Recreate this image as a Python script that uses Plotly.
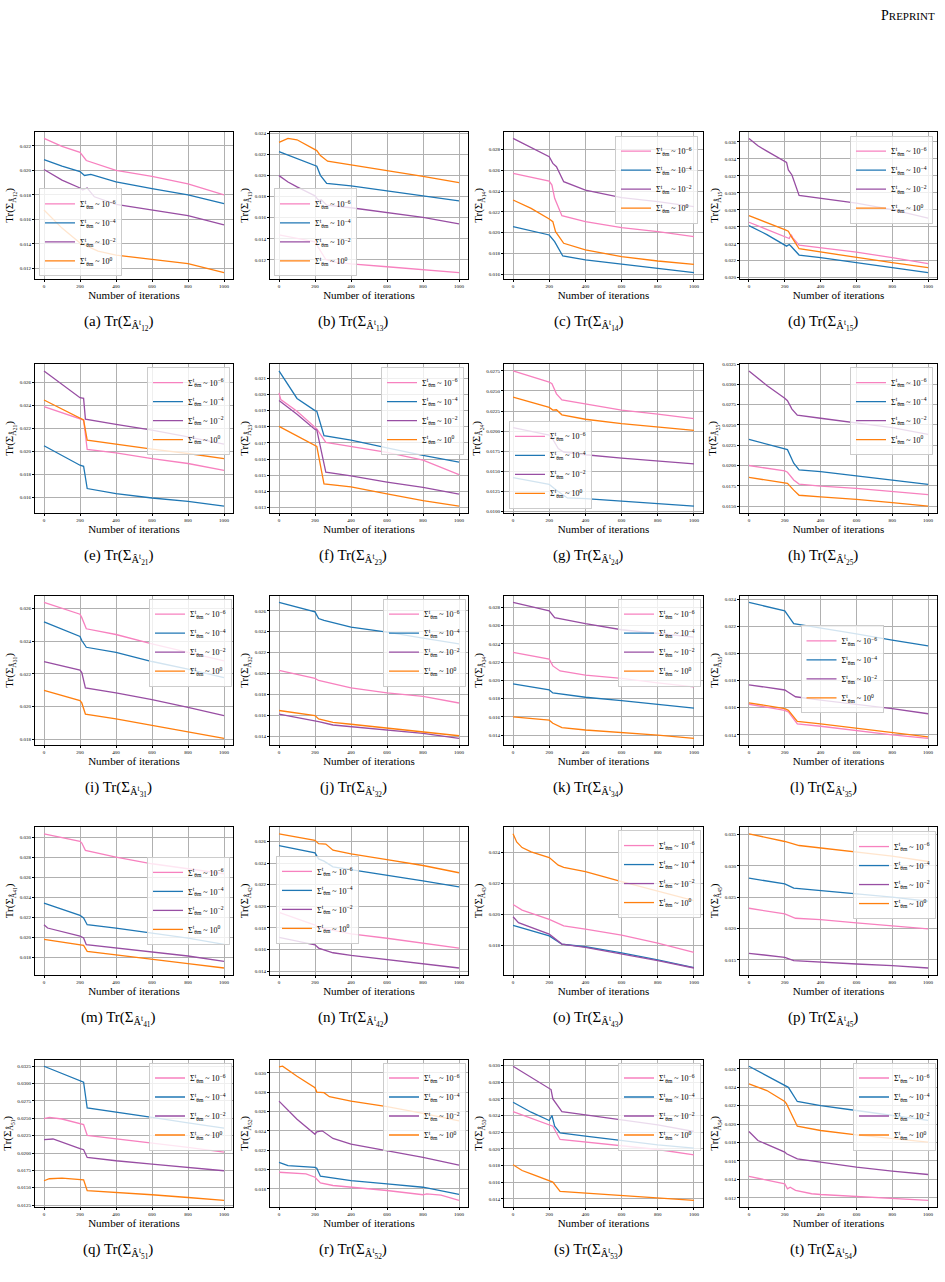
import plotly.graph_objects as go

# ---------------- data (x = iteration, y = trace value) ----------------
a_e6 = [(0,.02260),(100,.02195),(200,.02146),(215,.02120),(235,.02080),(400,.02000),(600,.01950),(800,.01890),(1000,.01800)]
a_e4 = [(0,.02087),(100,.02035),(200,.01990),(225,.01958),(260,.01966),(400,.01905),(600,.01850),(800,.01800),(1000,.01728)]
a_e2 = [(0,.02007),(100,.01920),(200,.01856),(215,.01840),(240,.01856),(280,.01784),(400,.01722),(600,.01676),(800,.01630),(1000,.01556)]
a_e0 = [(0,.01676),(50,.01600),(100,.01529),(200,.01408),(300,.01341),(400,.01309),(600,.01274),(800,.01239),(1000,.01166)]

b_e6 = [(0,.01438),(100,.01407),(200,.01370),(220,.01313),(260,.01203),(300,.01181),(400,.01162),(600,.01134),(800,.01109),(1000,.01078)]
b_e4 = [(0,.02228),(100,.02160),(200,.02097),(210,.02090),(230,.02003),(265,.01927),(400,.01902),(600,.01855),(800,.01811),(1000,.01761)]
b_e2 = [(0,.02000),(50,.01940),(100,.01893),(200,.01808),(215,.01775),(225,.01764),(235,.01770),(265,.01720),(400,.01695),(600,.01651),(800,.01604),(1000,.01542)]
b_e0 = [(0,.02316),(50,.02354),(100,.02341),(200,.02247),(210,.02238),(230,.02191),(270,.02137),(400,.02103),(600,.02050),(800,.01993),(1000,.01934)]

c_e6 = [(0,.02570),(200,.02496),(215,.02458),(230,.02330),(270,.02163),(400,.02106),(600,.02048),(800,.02010),(1000,.01962)]
c_e4 = [(0,.02058),(200,.01978),(230,.01914),(275,.01776),(400,.01738),(600,.01696),(800,.01658),(1000,.01616)]
c_e2 = [(0,.02906),(100,.02816),(200,.02730),(220,.02666),(240,.02634),(280,.02490),(400,.02410),(600,.02336),(800,.02298),(1000,.02250)]
c_e0 = [(0,.02314),(100,.02234),(200,.02131),(220,.02106),(235,.02010),(280,.01898),(400,.01834),(600,.01770),(800,.01728),(1000,.01696)]

d_e6 = [(0,.02653),(100,.02567),(215,.02477),(225,.02462),(235,.02508),(245,.02470),(280,.02384),(400,.02352),(600,.02302),(800,.02236),(1000,.02165)]
d_e4 = [(0,.02614),(100,.02508),(210,.02372),(225,.02391),(235,.02370),(280,.02267),(400,.02236),(600,.02177),(800,.02119),(1000,.02060)]
d_e2 = [(0,.03640),(50,.03553),(100,.03491),(200,.03366),(210,.03358),(220,.03269),(240,.03210),(280,.02968),(400,.02937),(600,.02879),(800,.02801),(1000,.02703)]
d_e0 = [(0,.02731),(100,.02653),(200,.02567),(220,.02547),(235,.02489),(280,.02341),(400,.02302),(600,.02236),(800,.02177),(1000,.02119)]

e_e6 = [(0,.02388),(200,.02286),(220,.02272),(240,.02016),(400,.01987),(600,.01937),(800,.01894),(1000,.01835)]
e_e4 = [(0,.02048),(200,.01879),(220,.01870),(240,.01676),(400,.01632),(600,.01594),(800,.01565),(1000,.01524)]
e_e2 = [(0,.02699),(200,.02466),(220,.02460),(230,.02280),(400,.02234),(600,.02184),(800,.02126),(1000,.02062)]
e_e0 = [(0,.02446),(200,.02292),(220,.02272),(240,.02097),(400,.02060),(600,.02019),(800,.01981),(1000,.01937)]

f_e6 = [(0,.02009),(10,.01968),(100,.01896),(200,.01792),(210,.01787),(260,.01704),(400,.01679),(600,.01642),(800,.01594),(1000,.01504)]
f_e4 = [(0,.02145),(100,.01975),(200,.01900),(210,.01896),(250,.01745),(400,.01717),(600,.01670),(800,.01623),(1000,.01581)]
f_e2 = [(0,.01962),(100,.01877),(200,.01783),(210,.01780),(260,.01519),(400,.01496),(600,.01458),(800,.01425),(1000,.01383)]
f_e0 = [(0,.01802),(100,.01745),(200,.01685),(210,.01679),(250,.01447),(400,.01428),(600,.01385),(800,.01343),(1000,.01310)]

g_e6 = [(0,.02750),(200,.02611),(215,.02590),(240,.02464),(270,.02388),(400,.02338),(600,.02262),(800,.02211),(1000,.02157)]
g_e4 = [(0,.01420),(200,.01336),(240,.01264),(300,.01168),(400,.01159),(600,.01125),(800,.01096),(1000,.01067)]
g_e2 = [(0,.02043),(200,.01950),(220,.01896),(250,.01782),(280,.01740),(400,.01706),(600,.01664),(800,.01630),(1000,.01593)]
g_e0 = [(0,.02422),(200,.02295),(220,.02262),(240,.02266),(270,.02203),(400,.02148),(600,.02093),(800,.02051),(1000,.02009)]

h_e6 = [(0,.02000),(200,.01933),(215,.01917),(250,.01821),(280,.01771),(400,.01746),(600,.01717),(800,.01683),(1000,.01642)]
h_e4 = [(0,.02321),(200,.02208),(215,.02196),(250,.02029),(280,.01946),(400,.01925),(600,.01875),(800,.01821),(1000,.01767)]
h_e2 = [(0,.03167),(100,.02988),(200,.02829),(215,.02800),(240,.02696),(270,.02621),(400,.02583),(600,.02529),(800,.02467),(1000,.02383)]
h_e0 = [(0,.01854),(200,.01792),(215,.01779),(250,.01696),(280,.01633),(400,.01613),(600,.01583),(800,.01542),(1000,.01500)]

i_e6 = [(0,.02637),(200,.02565),(210,.02544),(220,.02520),(235,.02476),(400,.02441),(600,.02384),(800,.02332),(1000,.02280)]
i_e4 = [(0,.02518),(200,.02429),(210,.02404),(235,.02363),(400,.02332),(600,.02276),(800,.02229),(1000,.02177)]
i_e2 = [(0,.02276),(200,.02223),(210,.02209),(230,.02115),(400,.02084),(600,.02043),(800,.01996),(1000,.01946)]
i_e0 = [(0,.02099),(200,.02037),(210,.02023),(230,.01955),(400,.01926),(600,.01885),(800,.01847),(1000,.01806)]

j_e6 = [(0,.02030),(200,.01953),(220,.01933),(400,.01862),(600,.01814),(800,.01781),(1000,.01717)]
j_e4 = [(0,.02681),(200,.02590),(220,.02526),(250,.02509),(400,.02445),(600,.02396),(800,.02338),(1000,.02283)]
j_e2 = [(0,.01610),(200,.01548),(220,.01539),(300,.01506),(400,.01490),(600,.01458),(800,.01425),(1000,.01377)]
j_e0 = [(0,.01645),(200,.01597),(220,.01564),(300,.01532),(400,.01513),(600,.01474),(800,.01441),(1000,.01403)]

k_e6 = [(0,.02307),(200,.02233),(220,.02159),(260,.02104),(400,.02059),(600,.02022),(800,.01974),(1000,.01930)]
k_e4 = [(0,.01963),(200,.01896),(220,.01863),(400,.01815),(600,.01778),(800,.01733),(1000,.01696)]
k_e2 = [(0,.02856),(200,.02763),(230,.02689),(400,.02622),(600,.02556),(800,.02511),(1000,.02474)]
k_e0 = [(0,.01600),(200,.01563),(220,.01530),(270,.01481),(400,.01456),(600,.01430),(800,.01400),(1000,.01363)]

l_e6 = [(0,.01625),(200,.01580),(220,.01568),(270,.01480),(400,.01463),(600,.01430),(800,.01400),(1000,.01373)]
l_e4 = [(0,.02375),(200,.02313),(250,.02218),(400,.02188),(600,.02143),(800,.02098),(1000,.02055)]
l_e2 = [(0,.01768),(200,.01730),(220,.01713),(260,.01680),(400,.01655),(600,.01623),(800,.01593),(1000,.01555)]
l_e0 = [(0,.01635),(200,.01593),(220,.01580),(270,.01498),(400,.01480),(600,.01448),(800,.01418),(1000,.01385)]

m_e6 = [(0,.03033),(200,.02957),(210,.02940),(230,.02867),(400,.02800),(600,.02733),(800,.02683),(1000,.02633)]
m_e4 = [(0,.02340),(200,.02217),(220,.02190),(240,.02123),(400,.02090),(600,.02043),(800,.01990),(1000,.01927)]
m_e2 = [(0,.02123),(20,.02090),(200,.02010),(220,.01990),(235,.01923),(400,.01890),(600,.01850),(800,.01810),(1000,.01757)]
m_e0 = [(0,.01977),(200,.01923),(220,.01917),(240,.01857),(400,.01823),(600,.01783),(800,.01733),(1000,.01690)]

n_e6 = [(0,.01943),(200,.01827),(220,.01806),(300,.01776),(400,.01745),(600,.01705),(800,.01663),(1000,.01614)]
n_e4 = [(0,.02560),(200,.02493),(220,.02438),(250,.02417),(300,.02365),(400,.02340),(600,.02289),(800,.02234),(1000,.02179)]
n_e2 = [(0,.01714),(200,.01644),(220,.01614),(260,.01592),(300,.01571),(400,.01547),(600,.01510),(800,.01470),(1000,.01430)]
n_e0 = [(0,.02670),(200,.02609),(220,.02579),(260,.02575),(300,.02518),(400,.02484),(600,.02432),(800,.02377),(1000,.02310)]

o_e6 = [(0,.02065),(50,.02029),(200,.01970),(280,.01927),(400,.01906),(600,.01868),(800,.01817),(1000,.01757)]
o_e4 = [(0,.01931),(200,.01863),(270,.01810),(400,.01793),(600,.01753),(800,.01709),(1000,.01658)]
o_e2 = [(0,.01986),(30,.01948),(200,.01874),(270,.01810),(400,.01789),(600,.01747),(800,.01704),(1000,.01656)]
o_e0 = [(0,.02521),(20,.02468),(50,.02432),(100,.02404),(200,.02368),(215,.02355),(250,.02319),(280,.02305),(400,.02277),(600,.02213),(800,.02150),(1000,.02090)]

p_e6 = [(0,.02324),(200,.02234),(260,.02165),(400,.02144),(600,.02090),(800,.02048),(1000,.01995)]
p_e4 = [(0,.02803),(200,.02713),(250,.02644),(400,.02606),(600,.02553),(800,.02500),(1000,.02436)]
p_e2 = [(0,.01606),(200,.01543),(250,.01489),(400,.01463),(600,.01436),(800,.01410),(1000,.01372)]
p_e0 = [(0,.03511),(200,.03388),(280,.03324),(400,.03282),(600,.03218),(800,.03154),(1000,.03069)]

q_e6 = [(0,.02495),(30,.02514),(100,.02490),(200,.02418),(220,.02409),(240,.02255),(400,.02207),(600,.02144),(800,.02082),(1000,.02014)]
q_e4 = [(0,.03250),(200,.03034),(220,.03020),(240,.02649),(400,.02591),(600,.02514),(800,.02433),(1000,.02360)]
q_e2 = [(0,.02192),(50,.02202),(200,.02062),(220,.02048),(240,.01937),(400,.01889),(600,.01841),(800,.01793),(1000,.01745)]
q_e0 = [(0,.01601),(30,.01630),(100,.01639),(200,.01625),(220,.01615),(240,.01457),(400,.01433),(600,.01399),(800,.01360),(1000,.01317)]

r_e6 = [(0,.01971),(150,.01954),(200,.01920),(230,.01861),(300,.01834),(400,.01817),(600,.01782),(800,.01738),(820,.01748),(900,.01735),(1000,.01679)]
r_e4 = [(0,.02074),(50,.02040),(200,.02022),(210,.02012),(230,.01930),(400,.01885),(600,.01851),(800,.01816),(1000,.01741)]
r_e2 = [(0,.02708),(100,.02520),(200,.02365),(210,.02389),(240,.02400),(300,.02321),(400,.02262),(600,.02194),(800,.02125),(1000,.02046)]
r_e0 = [(0,.03062),(20,.03069),(100,.02966),(200,.02846),(210,.02801),(250,.02795),(280,.02753),(400,.02708),(600,.02650),(800,.02581),(1000,.02503)]

s_e6 = [(0,.02448),(100,.02368),(200,.02288),(220,.02272),(260,.02112),(400,.02080),(600,.02032),(800,.01992),(1000,.01928)]
s_e4 = [(0,.02560),(100,.02440),(200,.02340),(215,.02400),(230,.02272),(260,.02192),(400,.02152),(600,.02100),(800,.02048),(1000,.02008)]
s_e2 = [(0,.02992),(200,.02728),(210,.02712),(220,.02600),(270,.02448),(400,.02408),(600,.02352),(800,.02288),(1000,.02208)]
s_e0 = [(0,.01808),(50,.01740),(100,.01700),(200,.01620),(220,.01600),(260,.01488),(400,.01468),(600,.01440),(800,.01412),(1000,.01380)]

t_e6 = [(0,.01432),(100,.01388),(200,.01352),(215,.01298),(230,.01315),(260,.01280),(350,.01244),(400,.01236),(600,.01215),(800,.01189),(1000,.01171)]
t_e4 = [(0,.02629),(200,.02426),(220,.02400),(270,.02246),(400,.02202),(600,.02148),(800,.02094),(1000,.02040)]
t_e2 = [(0,.01920),(50,.01822),(200,.01696),(210,.01678),(270,.01623),(400,.01587),(600,.01533),(800,.01490),(1000,.01453)]
t_e0 = [(0,.02437),(100,.02365),(200,.02246),(210,.02220),(270,.01978),(400,.01931),(600,.01884),(800,.01840),(1000,.01804)]

panel_letters = list("abcdefghijklmnopqrst")
panel_indices = ["12", "13", "14", "15", "21", "23", "24", "25", "31", "32",
                 "34", "35", "41", "42", "43", "45", "51", "52", "53", "54"]
panel_series = [
    [a_e6, a_e4, a_e2, a_e0], [b_e6, b_e4, b_e2, b_e0], [c_e6, c_e4, c_e2, c_e0], [d_e6, d_e4, d_e2, d_e0],
    [e_e6, e_e4, e_e2, e_e0], [f_e6, f_e4, f_e2, f_e0], [g_e6, g_e4, g_e2, g_e0], [h_e6, h_e4, h_e2, h_e0],
    [i_e6, i_e4, i_e2, i_e0], [j_e6, j_e4, j_e2, j_e0], [k_e6, k_e4, k_e2, k_e0], [l_e6, l_e4, l_e2, l_e0],
    [m_e6, m_e4, m_e2, m_e0], [n_e6, n_e4, n_e2, n_e0], [o_e6, o_e4, o_e2, o_e0], [p_e6, p_e4, p_e2, p_e0],
    [q_e6, q_e4, q_e2, q_e0], [r_e6, r_e4, r_e2, r_e0], [s_e6, s_e4, s_e2, s_e0], [t_e6, t_e4, t_e2, t_e0],
]
y_tick_steps = [0.002, 0.002, 0.002, 0.002, 0.002, 0.001, 0.0025, 0.0025, 0.002, 0.002,
                0.002, 0.002, 0.002, 0.002, 0.002, 0.005, 0.0025, 0.002, 0.002, 0.002]
series_names = ["Σ<sup>t</sup><sub>θm</sub> ~ 10<sup>−6</sup>",
                "Σ<sup>t</sup><sub>θm</sub> ~ 10<sup>−4</sup>",
                "Σ<sup>t</sup><sub>θm</sub> ~ 10<sup>−2</sup>",
                "Σ<sup>t</sup><sub>θm</sub> ~ 10<sup>0</sup>"]
x_ticks = [0, 200, 400, 600, 800, 1000]

# ---------------- styling / layout ----------------
W, H = 945, 1282
COLORS = ["#f781bf", "#1f77b4", "#984ea3", "#ff7f0e"]
FONT = "Liberation Serif"
COLS = [(35, 233), (270, 468), (504, 703), (740, 937)]
ROWS = [(130, 278), (363, 512), (595, 745), (827, 975), (1060, 1208)]
CAP_X = [118, 353, 588, 823]
# legend placement: (xanchor, yanchor, x_px, y_px)
LEG = [("left", "bottom", 39, 275), ("left", "bottom", 274, 275), ("right", "top", 698, 134), ("right", "top", 933, 134),
       ("right", "top", 230, 366), ("right", "top", 464, 366), ("left", "bottom", 509, 508), ("right", "top", 933, 366),
       ("right", "top", 232, 598), ("right", "top", 466, 598), ("right", "top", 701, 598), ("center", "middle", 842, 669),
       ("right", "middle", 230, 901), ("left", "middle", 276, 900), ("right", "top", 701, 830), ("right", "top", 936, 831),
       ("right", "top", 232, 1063), ("right", "top", 466, 1063), ("right", "top", 701, 1063), ("right", "top", 936, 1063)]

fig = go.Figure()
layout = dict(width=W, height=H, autosize=False, margin=dict(l=0, r=0, t=0, b=0),
              paper_bgcolor="white", plot_bgcolor="white",
              font=dict(family=FONT, color="black"), annotations=[])

for k, letter in enumerate(panel_letters):
    r, c = divmod(k, 4)
    sfx = "" if k == 0 else str(k + 1)
    lg = "legend" if k == 0 else f"legend{k + 1}"
    ys_all = []
    for pts, col, name in zip(panel_series[k], COLORS, series_names):
        xs = [p[0] for p in pts]
        ys = [p[1] for p in pts]
        ys_all += ys
        fig.add_trace(go.Scatter(x=xs, y=ys, mode="lines", name=name,
                                 line=dict(color=col, width=1.3),
                                 xaxis="x" + sfx, yaxis="y" + sfx, legend=lg,
                                 hoverinfo="skip"))
    lo, hi = min(ys_all), max(ys_all)
    pad = 0.05 * (hi - lo)
    step = y_tick_steps[k]
    fmt = ".4f" if abs(step * 1000 - round(step * 1000)) > 1e-9 else ".3f"
    x0, x1 = COLS[c]
    t0, t1 = ROWS[r]
    axis_common = dict(showgrid=True, gridcolor="#b0b0b0", gridwidth=1, zeroline=False,
                       showline=True, linecolor="black", linewidth=1, mirror=True,
                       ticks="outside", ticklen=2, tickwidth=0.6, tickcolor="black",
                       tickfont=dict(size=5, family=FONT))
    layout["xaxis" + sfx] = dict(axis_common, domain=[x0 / W, x1 / W], anchor="y" + sfx,
                                 range=[-50, 1050], tickvals=x_ticks,
                                 title=dict(text="Number of iterations", font=dict(size=11, family=FONT), standoff=1))
    layout["yaxis" + sfx] = dict(axis_common, domain=[1 - t1 / H, 1 - t0 / H], anchor="x" + sfx,
                                 range=[lo - pad, hi + pad], dtick=step, tick0=0, tickformat=fmt,
                                 title=dict(text=f"Tr(Σ<sub>Â<sub>{panel_indices[k]}</sub></sub>)",
                                            font=dict(size=11, family=FONT), standoff=3))
    xa, ya, lx, ly = LEG[k]
    layout[lg] = dict(x=lx / W, y=1 - ly / H, xanchor=xa, yanchor=ya, xref="paper", yref="paper",
                      bgcolor="rgba(255,255,255,0.8)", bordercolor="#cccccc", borderwidth=1,
                      font=dict(size=8, family=FONT), itemwidth=30, tracegroupgap=0)
    layout["annotations"].append(dict(
        text=f"({letter}) Tr(Σ<sub>Â<sup>t</sup><sub>{panel_indices[k]}</sub></sub>)",
        x=CAP_X[c] / W, y=1 - (t1 + 44) / H, xref="paper", yref="paper",
        xanchor="center", yanchor="middle", showarrow=False, font=dict(size=15, family=FONT)))

layout["annotations"].append(dict(
    text="P<span style='font-size:11px'>REPRINT</span>", x=937 / W, y=1 - 14 / H,
    xref="paper", yref="paper", xanchor="right", yanchor="middle", showarrow=False,
    font=dict(size=14, family=FONT)))

fig.update_layout(**layout)
fig.write_html("out.html", config={"displayModeBar": False})
